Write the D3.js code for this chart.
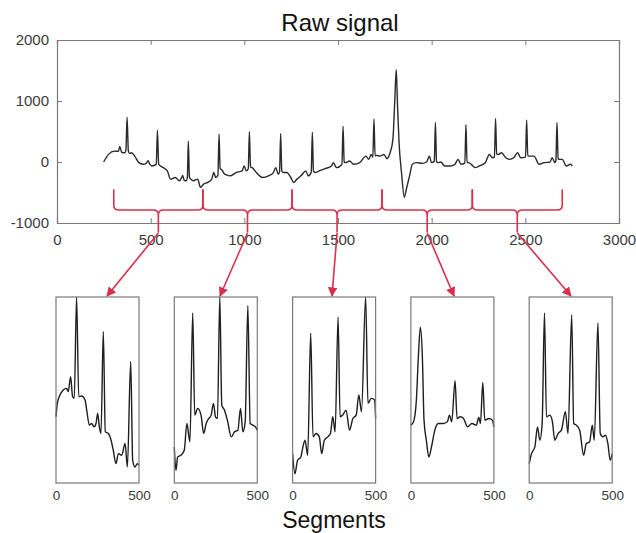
<!DOCTYPE html>
<html><head><meta charset="utf-8">
<script src="https://cdn.jsdelivr.net/npm/d3@7"></script>
<style>
html,body{margin:0;padding:0;background:#fff;}
svg{display:block;font-family:"Liberation Sans",Arial,Helvetica,sans-serif;}
</style></head>
<body><svg id="chart" width="636" height="533"></svg>
<script>
// ---------- DATA ----------
const rawX = [249,275,307,328,335,345,361,368,374,381,388,398,415,437,459,476,486,496,506,530,536,543,553,567,589,606,632,653,665,671,679,690,696,701,707,714,729,751,766,783,805,826,837,847,859,865,871,880,895,924,956,988,999,1010,1021,1027,1033,1042,1064,1097,1129,1155,1168,1181,1188,1194,1200,1209,1226,1248,1263,1281,1302,1328,1341,1357,1363,1369,1378,1400,1432,1465,1475,1492,1521,1527,1533,1540,1562,1583,1616,1649,1664,1677,1686,1692,1698,1705,1724,1746,1761,1778,1793,1803,1811,1818,1826,1839,1854,1865,1882,1897,1919,1951,1973,1988,1999,2014,2020,2026,2033,2048,2070,2098,2124,2141,2156,2177,2183,2189,2196,2211,2232,2254,2286,2308,2325,2335,2341,2347,2356,2373,2395,2416,2438,2459,2475,2501,2507,2513,2522,2546,2574,2600,2632,2643,2658,2663,2669,2675,2682,2697,2719,2740,2751];
const rawY = [0,125,178,175,255,160,151,200,735,180,140,151,97,-11,-38,-22,20,-40,-65,-40,519,-40,-65,-92,-146,-281,-254,-308,-260,-220,-300,-308,-250,340,-250,-281,-308,-281,-416,-362,-335,-281,-173,-254,-220,454,-110,-130,-200,-227,-173,-146,-65,-146,-110,497,-80,-92,-173,-254,-227,-173,-92,-200,-160,465,-150,-173,-173,-254,-335,-281,-227,-146,-227,-170,486,-150,-173,-146,-108,-65,-11,-92,-40,584,0,-11,16,-38,-11,97,43,124,80,703,100,108,97,124,54,151,367,1000,1514,900,313,-173,-578,-443,-227,-38,-11,-22,0,97,-11,10,649,10,-11,0,-65,-65,-38,43,-38,-20,611,-10,-11,-38,-92,-65,-11,124,70,80,714,130,124,151,70,43,70,151,70,80,687,100,97,97,-38,-11,0,70,-11,20,649,50,43,43,-65,-38,-65];

const xTicks = [0,500,1000,1500,2000,2500,3000];
const yTicks = [-1000,0,1000,2000];
const braceBounds = [303,779,1255,1735,2217,2697];
const segTicks = [0,500];

// segment panels: sample index (0-500) and level in % of panel height
const seg1X = [0,8,24,44,64,74,88,100,110,124,137,155,175,185,201,215,229,241,251,261,271,285,297,315,329,345,361,376,396,416,430,450,462,476,490,500];
const seg1Y = [35.6,42.8,47.3,50,50.9,49.1,57.2,46.4,45.5,100,46.4,46.8,44.6,39.2,31.1,32,30.2,32,37.4,30.2,26.6,81.5,27.5,26.6,23.9,17.6,10.4,15.8,14.9,21.2,8.6,65.3,12.2,8.6,10.4,9.5];
const seg2X = [0,10,20,40,60,76,94,111,123,141,161,177,192,208,222,236,248,260,274,286,302,322,343,363,383,399,413,427,443,457,473,489,500];
const seg2Y = [19.4,6.8,14,14.9,17.6,32,22.1,91.4,36.5,40.1,36.5,26.6,32,34.7,36.5,42.8,35.6,34.7,100,41.9,39.2,32.9,24.8,27.5,28.4,40.1,27.5,32.9,95.3,32,31.1,30.2,28.4];
const seg3X = [0,14,30,50,60,75,91,109,123,141,161,175,191,212,228,242,256,274,286,302,322,343,363,383,399,415,440,454,474,494,500];
const seg3Y = [15.8,5,12.2,14,18.5,23,14.9,80.6,24.8,26.6,24.8,15.8,23,24.8,26.6,35.6,27.5,89.2,35.6,36.5,39.2,28.4,34.7,36.5,47.3,38.3,100,42.8,45.5,44.6,34.7];
const seg4X = [0,16,33,45,57,69,79,93,108,124,144,164,195,220,232,246,266,278,297,317,341,368,394,409,419,433,445,470,490,500];
const seg4Y = [31.1,32.9,44.6,68,83.8,68,33.8,23,14,19.4,28.4,32,32,32.9,36.5,32.9,55,34.7,35.6,34.7,30.2,32,31.1,35.3,32,54,33.8,34.7,33.8,30.2];
const seg5X = [0,14,34,50,64,78,92,104,124,140,154,174,194,218,234,256,268,284,304,328,344,364,380,392,414,428,444,460,474,488,500];
const seg5Y = [10.4,15.8,19.4,30.2,23,32,91.4,35.6,36.5,32.9,23,26.6,28.4,38.3,26.6,90.5,32,31.1,28.4,14.9,21.2,22.1,31.1,23,86,26.6,24.8,25.7,21.2,12.2,15.8];
const segXs = [seg1X,seg2X,seg3X,seg4X,seg5X];
const segYs = [seg1Y,seg2Y,seg3Y,seg4Y,seg5Y];

// ---------- DRAW ----------
const svg = d3.select("#chart");
const RED = "#d8304c";
const AX = "#7a7a7a";
const TXT = "#3a3a3a";
const FONT = "'Liberation Sans',Arial,sans-serif";
const fmt = d => String(d);

const m = {l:57, r:619, t:40, b:223};
const x = d3.scaleLinear().domain([0,3000]).range([m.l, m.r]);
const y = d3.scaleLinear().domain([-1000,2000]).range([m.b, m.t]);

// title
svg.append("text").attr("x",340).attr("y",31).attr("text-anchor","middle")
  .attr("font-size",24).attr("fill","#111").text("Raw signal");

// axes
const gx = svg.append("g").attr("transform",`translate(0,${m.b})`)
  .call(d3.axisBottom(x).tickValues(xTicks).tickSize(-5).tickPadding(11).tickFormat(fmt));
const gxt = svg.append("g").attr("transform",`translate(0,${m.t})`)
  .call(d3.axisTop(x).tickValues(xTicks).tickSize(-5).tickFormat(""));
const gy = svg.append("g").attr("transform",`translate(${m.l},0)`)
  .call(d3.axisLeft(y).tickValues(yTicks).tickSize(-5).tickPadding(8).tickFormat(fmt));
const gyr = svg.append("g").attr("transform",`translate(${m.r},0)`)
  .call(d3.axisRight(y).tickValues(yTicks).tickSize(-5).tickFormat(""));
[gx,gxt,gy,gyr].forEach(g=>{
  g.selectAll("path.domain").attr("stroke",AX).attr("stroke-width",1.2);
  g.selectAll(".tick line").attr("stroke",AX);
  g.selectAll(".tick text").attr("fill",TXT).attr("font-size",15).attr("font-family",FONT);
});

// raw line
const rawData = rawX.map((v,i)=>[v,rawY[i]]);
svg.append("path").datum(rawData)
  .attr("fill","none").attr("stroke","#2a2a2a").attr("stroke-width",1.4)
  .attr("stroke-linejoin","round")
  .attr("d", d3.line().x(d=>x(d[0])).y(d=>y(d[1])).curve(d3.curveMonotoneX));

// braces
const bTop = 190, bMid = 210, bTip = 232, rr = 5;
const tips = [];
for (let i=0;i<braceBounds.length-1;i++){
  const x0 = x(braceBounds[i]), x1 = x(braceBounds[i+1]);
  const xc = (x0+x1)/2;
  tips.push(xc);
  const p = d3.path();
  p.moveTo(x0,bTop); p.lineTo(x0,bMid-rr); p.quadraticCurveTo(x0,bMid,x0+rr,bMid);
  p.lineTo(xc-rr,bMid); p.quadraticCurveTo(xc,bMid,xc,bMid+rr); p.lineTo(xc,bTip);
  p.moveTo(xc,bMid+rr); p.quadraticCurveTo(xc,bMid,xc+rr,bMid);
  p.lineTo(x1-rr,bMid); p.quadraticCurveTo(x1,bMid,x1,bMid-rr); p.lineTo(x1,bTop);
  svg.append("path").attr("d",p.toString()).attr("fill","none")
    .attr("stroke",RED).attr("stroke-width",1.6).attr("stroke-linecap","round");
}

// panels
const pW = 83, pTop = 297, pBot = 483, pStep = 118.3, pLeft0 = 56;
const arrowEnds = [107,220,332,454,571];

svg.append("defs").append("marker").attr("id","ah")
  .attr("viewBox","0 0 10 10").attr("refX",9).attr("refY",5)
  .attr("markerWidth",6).attr("markerHeight",6).attr("orient","auto")
  .append("path").attr("d","M0,0 L10,5 L0,10 z").attr("fill",RED);

for (let k=0;k<5;k++){
  const L = pLeft0 + k*pStep;
  const sx = d3.scaleLinear().domain([0,500]).range([L, L+pW]);
  const sy = d3.scaleLinear().domain([0,100]).range([pBot, pTop]);
  svg.append("line").attr("x1",tips[k]).attr("y1",bTip+1)
    .attr("x2",arrowEnds[k]).attr("y2",pTop-1)
    .attr("stroke",RED).attr("stroke-width",1.6).attr("marker-end","url(#ah)");
  const g = svg.append("g");
  const data = segXs[k].map((v,i)=>[v,segYs[k][i]]);
  g.append("path").datum(data).attr("fill","none").attr("stroke","#1e1e1e")
    .attr("stroke-width",1.4).attr("stroke-linejoin","round")
    .attr("d", d3.line().x(d=>sx(d[0])).y(d=>sy(d[1])).curve(d3.curveMonotoneX));
  g.append("rect").attr("x",L).attr("y",pTop).attr("width",pW).attr("height",pBot-pTop)
    .attr("fill","none").attr("stroke",AX).attr("stroke-width",1.2);
  const ax = g.append("g").attr("transform",`translate(0,${pBot})`)
    .call(d3.axisBottom(sx).tickValues(segTicks).tickSize(0).tickPadding(7).tickFormat(fmt));
  ax.select("path.domain").remove();
  ax.selectAll(".tick text").attr("fill",TXT).attr("font-size",13.5).attr("font-family",FONT);
}

svg.append("text").attr("x",334).attr("y",528).attr("text-anchor","middle")
  .attr("font-size",23).attr("fill","#111").text("Segments");
</script></body></html>
